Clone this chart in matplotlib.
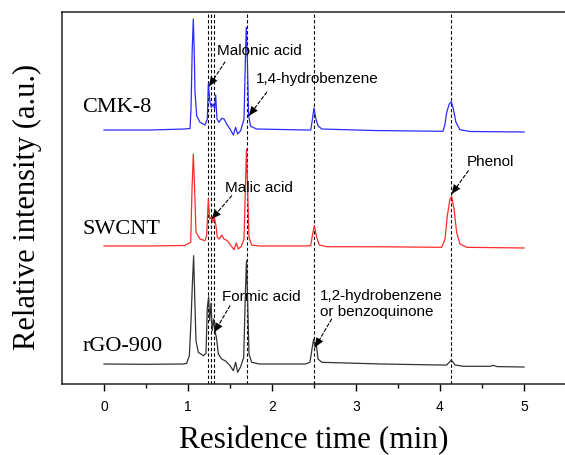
import numpy as np
import matplotlib as mpl
mpl.use("Agg")
import matplotlib.pyplot as plt

# chromatogram traces (time in min, intensity in a.u.)
t_cmk = [0.0, 0.55, 0.96, 1.024, 1.036, 1.05, 1.063, 1.075, 1.083, 1.104, 1.143, 1.202, 1.23, 1.242,
         1.262, 1.278, 1.301, 1.317, 1.329, 1.345, 1.369, 1.401, 1.429, 1.46, 1.5, 1.54, 1.567,
         1.591, 1.627, 1.667, 1.683, 1.694, 1.706, 1.722, 1.746, 1.817, 2.4, 2.461, 2.48, 2.5,
         2.52, 2.548, 2.595, 3.2, 4.036, 4.06, 4.08, 4.11, 4.135, 4.159, 4.19, 4.238, 4.357, 5.0]
i_cmk = [0.0, 0.0, 1.0, 1.5, 21.0, 80.0, 111.0, 75.0, 38.0, 14.0, 7.7, 5.0, 11.0, 46.0,
         27.7, 22.7, 26.0, 21.0, 35.0, 11.0, 7.7, 11.7, 11.0, 6.0, 1.0, -5.0, 2.7,
         -4.0, -0.7, 11.0, 71.0, 102.7, 71.0, 14.0, 3.7, 1.0, 0.0, 0.0, 10.0, 22.0,
         12.0, 4.0, 1.0, -0.5, -1.3, 6.0, 17.7, 26.0, 28.3, 21.0, 7.7, 0.3, -1.5, -2.0]

t_swcnt = [0.0, 0.5, 0.96, 1.032, 1.048, 1.063, 1.079, 1.095, 1.143, 1.202, 1.222, 1.242, 1.258,
           1.278, 1.294, 1.313, 1.333, 1.349, 1.373, 1.401, 1.429, 1.468, 1.512, 1.548, 1.575,
           1.599, 1.635, 1.667, 1.683, 1.696, 1.71, 1.726, 1.758, 1.85, 2.4, 2.461, 2.48, 2.504,
           2.532, 2.563, 2.65, 3.3, 4.02, 4.06, 4.087, 4.119, 4.139, 4.167, 4.198, 4.238,
           4.317, 5.0]
i_swcnt = [0.0, 0.0, 0.5, 3.7, 57.0, 92.0, 57.0, 13.7, 7.0, 5.3, 10.3, 47.0, 27.0,
           28.7, 23.7, 28.7, 20.3, 8.7, 7.0, 11.0, 7.0, 5.3, 0.3, -3.7, 3.0,
           -3.0, -0.3, 7.0, 57.0, 97.0, 57.0, 8.7, 1.0, 0.0, 0.0, 0.3, 10.3, 20.3,
           8.7, 1.0, -0.7, -0.8, -1.3, 7.0, 30.3, 47.0, 49.7, 37.0, 13.7, 2.0,
           -1.3, -2.0]

t_rgo = [0.0, 0.5, 0.95, 0.984, 1.016, 1.036, 1.052, 1.067, 1.079, 1.095, 1.123, 1.183, 1.214,
         1.23, 1.246, 1.258, 1.274, 1.289, 1.306, 1.321, 1.341, 1.361, 1.401, 1.452, 1.5, 1.54,
         1.567, 1.591, 1.627, 1.663, 1.683, 1.696, 1.71, 1.726, 1.758, 1.85, 2.4, 2.452, 2.476,
         2.496, 2.512, 2.524, 2.548, 2.592, 3.3, 4.0, 4.08, 4.135, 4.18, 4.28, 4.6, 4.63,
         4.68, 5.0]
i_rgo = [0.0, -0.3, 0.0, 0.7, 8.3, 43.3, 80.0, 108.3, 70.0, 23.3, 11.7, 8.3, 10.7,
         56.7, 67.3, 43.3, 60.7, 33.3, 45.0, 33.3, 25.0, 10.0, 5.0, 2.7, -1.7, -6.7,
         1.7, -8.3, -2.7, 6.7, 70.0, 103.3, 63.3, 10.0, 1.7, 0.0, 0.0, 1.7, 15.0,
         25.0, 16.7, 21.7, 5.0, 1.7, 0.0, -1.0, -1.0, 4.0, -1.0, -2.3, -2.3, -1.3,
         -2.6, -3.0]

samples = ["CMK-8", "SWCNT", "rGO-900"]
offsets = [254, 138, 20]
colors = ["#2b2bff", "#ff2b2b", "#333333"]

# retention times of the identified products
peak_times = [1.238, 1.271, 1.304, 1.699, 2.504, 4.131]

products = ["Malonic acid", "1,4-hydrobenzene", "Malic acid", "Formic acid",
            "1,2-hydrobenzene\nor benzoquinone", "Phenol"]


fig = plt.figure(figsize=(5.65, 4.56), dpi=100)
ax = fig.add_axes([62/565, 71/456, 504/565, 372/456])

for t, i, off, c in zip([t_cmk, t_swcnt, t_rgo], [i_cmk, i_swcnt, i_rgo], offsets, colors):
    ax.plot(t, np.array(i) + off, color=c, lw=0.9)

for pt in peak_times:
    ax.axvline(pt, color="black", lw=0.8, ls=(0, (3, 2)), zorder=0)

ax.set_xlim(-0.5, 5.5)
ax.set_ylim(0, 372)

# annotations: text position, arrow tail, arrow tip
ann = [((1.342, 334), (1.44, 322), (1.25, 297.7)),
       ((1.81, 306), (1.937, 291.7), (1.726, 268.3)),
       ((1.44, 197), (1.52, 188.3), (1.282, 165)),
       ((1.401, 88.3), (1.5, 78.3), (1.313, 51.7)),
       ((2.571, 81.3), (2.71, 65), (2.512, 36.7)),
       ((4.318, 222.7), (4.337, 213.3), (4.139, 190))]
for label, (txt, tail, tip) in zip(products, ann):
    ax.text(txt[0], txt[1], label, fontsize=11, family="Liberation Sans",
            ha="left", va="center", linespacing=1.2)
    # dashed shaft
    ax.annotate("", xy=tip, xytext=tail,
                arrowprops=dict(arrowstyle="-", color="black", lw=0.8, ls=(0, (3, 2)),
                                shrinkA=0, shrinkB=0))
    # solid head
    mid = (tip[0] + 0.4*(tail[0] - tip[0]), tip[1] + 0.4*(tail[1] - tip[1]))
    ax.annotate("", xy=tip, xytext=mid,
                arrowprops=dict(arrowstyle="-|>,head_length=0.65,head_width=0.28",
                                color="black", lw=0.1, shrinkA=0, shrinkB=0))

for s, off in zip(samples, [278, 155, 38]):
    ax.text(-0.255, off, s, fontsize=16, family="Liberation Serif", ha="left", va="center")

ax.set_xticks(np.arange(0, 6, 1))
ax.set_xticks(np.arange(0.5, 5.5, 1), minor=True)
ax.set_yticks([])
ax.tick_params(axis="x", which="major", direction="out", length=5, width=1, pad=6,
               labelsize=10, labelfontfamily="Liberation Sans")
ax.tick_params(axis="x", which="minor", direction="out", length=3, width=1)
for sp in ["left", "bottom", "top"]:
    ax.spines[sp].set_linewidth(1.1)
    ax.spines[sp].set_color("#222222")
ax.spines["right"].set_visible(False)

fig.text(314/565, 1 - 441/456, "Residence time (min)", fontsize=22.5,
         family="Liberation Serif", ha="center", va="center")
fig.text(27/565, 1 - 207/456, "Relative intensity (a.u.)", fontsize=22,
         family="Liberation Serif", ha="center", va="center", rotation=90)

fig.savefig("out.png", dpi=100)
